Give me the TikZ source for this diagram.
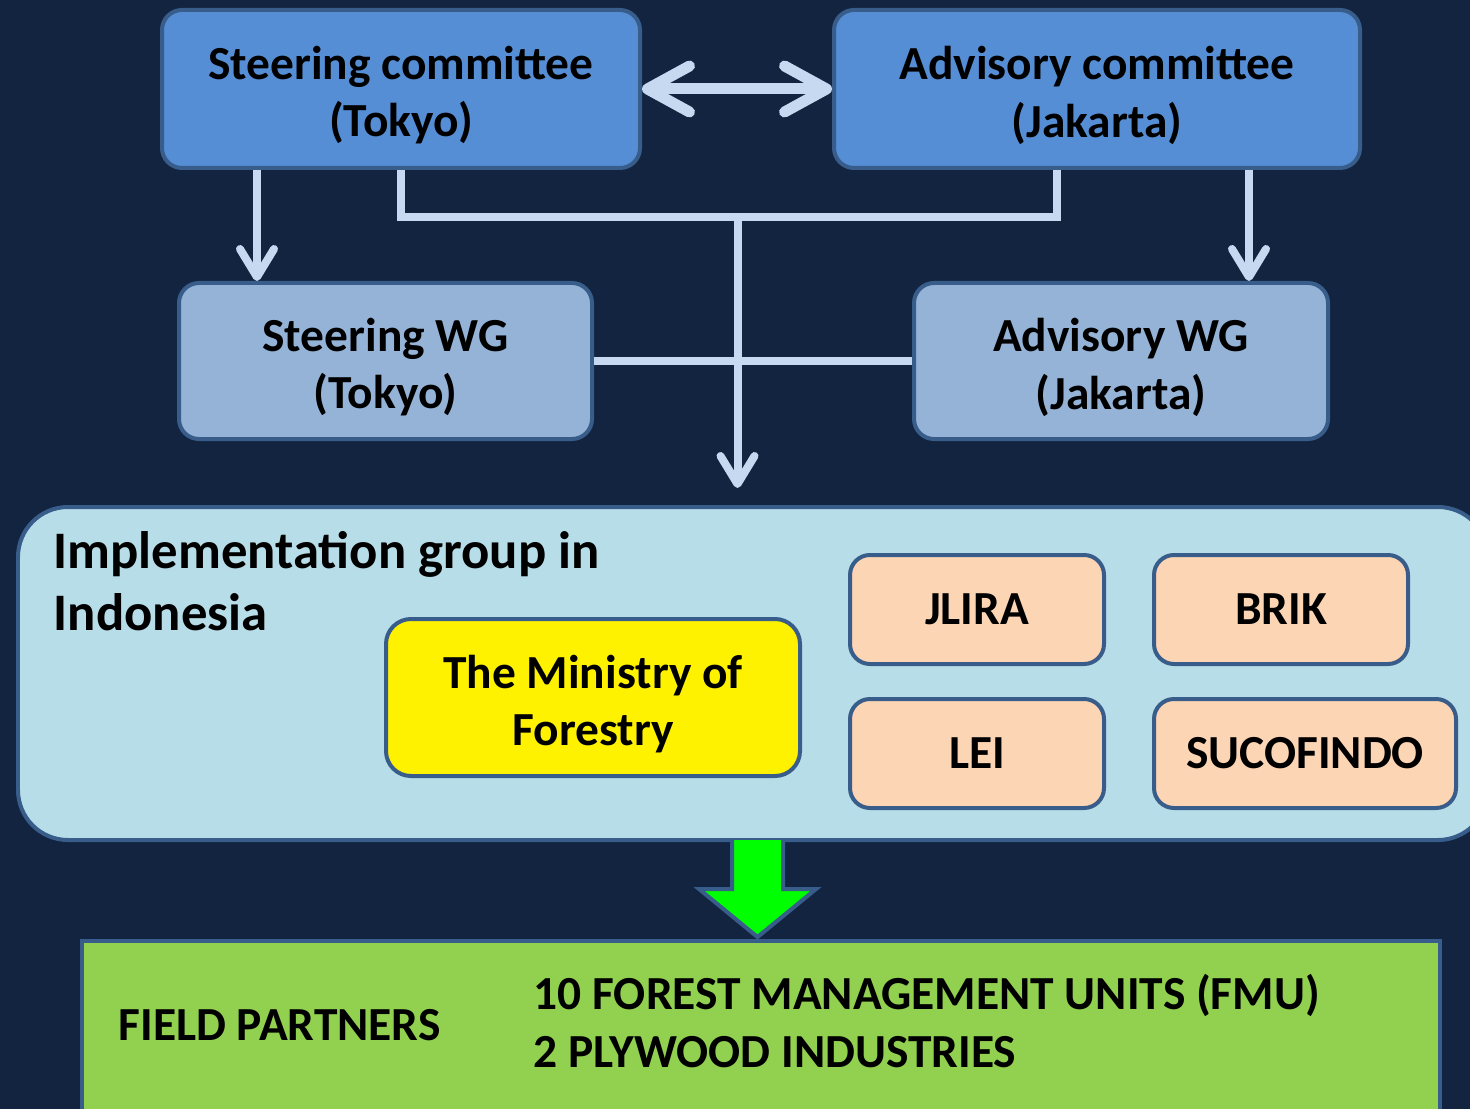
\documentclass[tikz,border=0pt]{standalone}
\usepackage{fontspec}
\setmainfont{Carlito}
\usetikzlibrary{arrows.meta,calc}
\definecolor{navy}{RGB}{18,36,63}
\definecolor{rim}{RGB}{56,93,138}
\definecolor{topblue}{RGB}{85,142,213}
\definecolor{wgblue}{RGB}{149,179,215}
\definecolor{implblue}{RGB}{183,221,232}
\definecolor{peach}{RGB}{252,213,181}
\definecolor{fieldgreen}{RGB}{146,208,80}
\definecolor{linkblue}{RGB}{198,217,241}
\newcommand{\topstrut}{\rule{0pt}{0.46cm}}
\begin{document}
\begin{tikzpicture}[font=\fontsize{13.5}{16.3}\selectfont\bfseries,
	box/.style={draw=rim, line width=0.04cm, rounded corners=0.2cm, align=center, inner sep=0pt},
	conn/.style={draw=linkblue, line width=0.08cm},
	tip/.style={-{Straight Barb[length=0.28cm, width=0.34cm, round]}}]
\fill[navy] (0,0) rectangle (14.7,-11.09);
\useasboundingbox (0,0) rectangle (14.7,-11.09);
\clip (0,0) rectangle (14.7,-11.09);
% committees
\node[box, fill=topblue, minimum width=4.78cm, minimum height=1.58cm](sc) at (4.01,-0.89){\topstrut Steering committee\\(Tokyo)};
\node[box, fill=topblue, minimum width=5.26cm, minimum height=1.58cm](ac) at (10.97,-0.89){\topstrut Advisory committee\\(Jakarta)};
% working groups
\node[box, fill=wgblue, minimum width=4.13cm, minimum height=1.56cm](swg) at (3.855,-3.61){\topstrut Steering WG\\(Tokyo)};
\node[box, fill=wgblue, minimum width=4.14cm, minimum height=1.56cm](awg) at (11.21,-3.61){\topstrut Advisory WG\\(Jakarta)};
% implementation group
\node[box, fill=implblue, rounded corners=0.5cm, minimum width=14.7cm, minimum height=3.33cm](impl) at (7.53,-6.735){};
\node[anchor=west, align=left, inner sep=0pt, font=\fontsize{15}{17.6}\selectfont\bfseries](impltext) at (0.53,-5.81){Implementation group in\\Indonesia};
\node[box, fill=yellow, rounded corners=0.25cm, minimum width=4.14cm, minimum height=1.57cm](mof) at (5.93,-6.975){\topstrut The Ministry of\\Forestry};
\node[box, fill=peach, minimum width=2.54cm, minimum height=1.09cm](jlira) at (9.77,-6.095){JLIRA};
\node[box, fill=peach, minimum width=2.54cm, minimum height=1.09cm](brik) at (12.81,-6.095){BRIK};
\node[box, fill=peach, minimum width=2.54cm, minimum height=1.09cm](lei) at (9.77,-7.535){LEI};
\node[box, fill=peach, minimum width=3.02cm, minimum height=1.09cm](suco) at (13.05,-7.535){SUCOFINDO};
% field partners
\node[box, fill=fieldgreen, rounded corners=0pt, minimum width=13.58cm, minimum height=2.0cm, anchor=north](field) at (7.61,-9.39){};
\node[anchor=west, inner sep=0pt](fp) at (1.18,-10.25){FIELD PARTNERS};
\node[anchor=west, align=left, inner sep=0pt, font=\fontsize{13.5}{16.5}\selectfont\bfseries](units) at (5.33,-10.21){10 FOREST MANAGEMENT UNITS (FMU)\\2 PLYWOOD INDUSTRIES};
% connectors
\draw[conn, line width=0.11cm, {Straight Barb[length=0.42cm, width=0.46cm, round]}-{Straight Barb[length=0.42cm, width=0.46cm, round]}] (sc) -- (ac);
\draw[conn, tip]([xshift=-1.44cm]sc.south)--([xshift=-1.44cm]sc.south |- swg.north);
\draw[conn, tip]([xshift=1.52cm]ac.south)--([xshift=1.52cm]ac.south |- awg.north);
\draw[conn](sc.south)--++(0,-0.47)coordinate(junc)-|([xshift=-0.4cm]ac.south);
\coordinate(mid) at ($(junc)+(3.365,0)$);
\draw[conn, tip, shorten >=0.17cm](mid)--(mid |- impl.north);
\draw[conn](swg.east)--(awg.west);
% green arrow
\draw[draw=rim, line width=0.04cm, fill=green, line join=miter]
	(7.32,-8.40)--(7.32,-8.89)--(6.99,-8.89)--(7.575,-9.37)--(8.16,-8.89)--(7.83,-8.89)--(7.83,-8.40);
\end{tikzpicture}
\end{document}
